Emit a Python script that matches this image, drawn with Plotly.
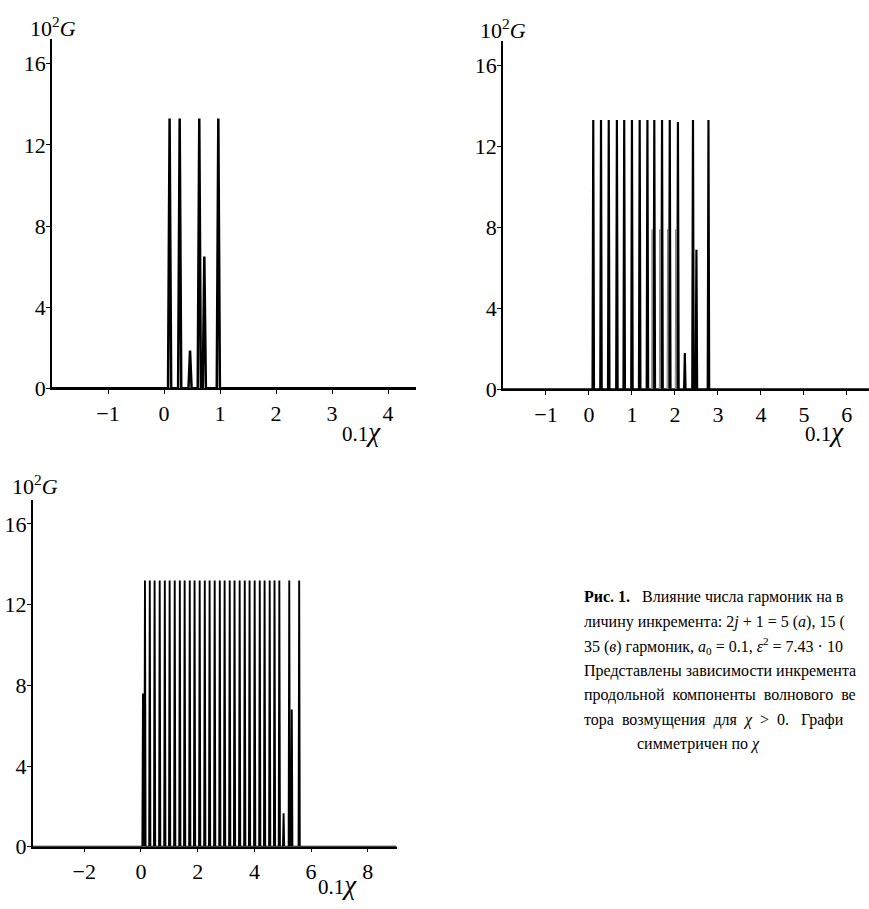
import plotly.graph_objects as go

# ---------------- data ----------------
# panel (a): 2j+1 = 5 harmonics
A_PEAK_X = [0.10, 0.28, 0.465, 0.63, 0.72, 0.97]
A_PEAK_G = [13.3, 13.3, 1.86, 13.3, 6.5, 13.3]
# panel (b): 2j+1 = 15 harmonics
B_PEAK_X = [0.10, 0.28, 0.46, 0.65, 0.82, 1.00, 1.18, 1.36, 1.52, 1.70,
            1.88, 2.07, 2.23, 2.42, 2.50, 2.78]
B_PEAK_G = [13.3, 13.3, 13.3, 13.3, 13.3, 13.3, 13.3, 13.3, 13.3, 13.3,
            13.3, 13.2, 1.8, 13.3, 6.9, 13.3]
B_INNER_X = [1.47, 1.65, 1.83, 2.02]
B_INNER_G = [7.9, 7.9, 7.9, 7.9]
# panel (c): 2j+1 = 35 harmonics
C_PEAK_X = [0.07, 0.14, 0.31, 0.48, 0.66, 0.84, 1.01, 1.19, 1.37, 1.54, 1.72,
            1.89, 2.07, 2.25, 2.42, 2.60, 2.78, 2.95, 3.13, 3.30, 3.48,
            3.66, 3.83, 4.01, 4.19, 4.36, 4.54, 4.71, 4.88, 5.03, 5.23,
            5.32, 5.58]
C_PEAK_G = [7.6, 13.2, 13.2, 13.2, 13.2, 13.2, 13.2, 13.2, 13.2, 13.2, 13.2,
            13.2, 13.2, 13.2, 13.2, 13.2, 13.2, 13.2, 13.2, 13.2, 13.2,
            13.2, 13.2, 13.2, 13.2, 13.2, 13.2, 13.2, 13.2, 1.66, 13.2,
            6.8, 13.2]

A_XTICKS = [-1, 0, 1, 2, 3, 4]
B_XTICKS = [-1, 0, 1, 2, 3, 4, 5, 6]
C_XTICKS = [-2, 0, 2, 4, 6, 8]
Y_TICKS = [0, 4, 8, 12, 16]

# caption, as far as it is visible in the (cropped) reference
CAPTION = [
    "<b>Рис. 1.</b>   Влияние числа гармоник на в",
    "личину инкремента: 2<i>j</i> + 1 = 5 (<i>а</i>), 15 (",
    "35 (<i>в</i>) гармоник, <i>a</i><sub>0</sub> = 0.1, <i>ε</i><sup>2</sup> = 7.43 · 10",
    "Представлены зависимости инкремента",
    "продольной  компоненты  волнового  ве",
    "тора  возмущения  для  <i>χ</i>  &gt;  0.   Графи",
]
CAPTION_LAST = "симметричен по <i>χ</i>"

# ---------------- helpers ----------------
W, H = 869, 909
FONT = "Liberation Serif"


def fx(p):
    return p / W


def fy(p):
    return 1 - p / H


def tick_text(vals):
    return [("−" + str(-v)) if v < 0 else str(v) for v in vals]


def spike_curve(xs, gs, half, lo, hi):
    X, Y = [lo], [0]
    for c, g in sorted(zip(xs, gs)):
        X += [c - half, c, c + half]
        Y += [0, g, 0]
    X.append(hi)
    Y.append(0)
    return X, Y


fig = go.Figure()

panels = [
    # (xs, gs, half, lw, xrange, xdom(px), ydom(px bottom, top), xticks, suffix)
    (A_PEAK_X, A_PEAK_G, 0.028, 2.5, [-2.0, 4.5], (52, 416), (394, 40), A_XTICKS, ""),
    (B_PEAK_X, B_PEAK_G, 0.017, 2.2, [-2.0, 6.515], (503, 869), (395, 41.7), B_XTICKS, "2"),
    (C_PEAK_X, C_PEAK_G, 0.022, 1.9, [-3.82, 9.02], (32.7, 396.7), (859, 507), C_XTICKS, "3"),
]

layout_axes = {}
for xs, gs, half, lw, xr, xd, yd, xt, sfx in panels:
    X, Y = spike_curve(xs, gs, half, xr[0], xr[1])
    fig.add_trace(go.Scatter(x=X, y=Y, mode="lines",
                             line=dict(color="black", width=lw),
                             xaxis="x" + sfx, yaxis="y" + sfx,
                             hoverinfo="skip", showlegend=False))
    common = dict(showline=True, linecolor="black", linewidth=1.5,
                  ticks="outside", ticklen=4, tickwidth=1.2, tickcolor="black",
                  showgrid=False, zeroline=False,
                  tickfont=dict(family=FONT, size=22, color="black"))
    layout_axes["xaxis" + sfx] = dict(common, range=xr,
                                      domain=[fx(xd[0]), fx(xd[1])],
                                      anchor="y" + sfx,
                                      tickvals=xt, ticktext=tick_text(xt))
    layout_axes["yaxis" + sfx] = dict(common, range=[0, 17.2],
                                      domain=[fy(yd[0]), fy(yd[1])],
                                      anchor="x" + sfx, ticklabelstandoff=-4,
                                      tickvals=Y_TICKS, ticktext=tick_text(Y_TICKS))

# faint inner branches of panel (b)
Xi, Yi = spike_curve(B_INNER_X, B_INNER_G, 0.012, 1.3, 2.2)
fig.add_trace(go.Scatter(x=Xi, y=Yi, mode="lines",
                         line=dict(color="#808080", width=1),
                         xaxis="x2", yaxis="y2", hoverinfo="skip",
                         showlegend=False))

annotations = []
# axis titles
for (x0, ym) in [(28, 27), (478, 29), (10, 492)]:
    annotations.append(dict(text="10<sup>2</sup><i>G</i>", x=fx(x0), y=fy(ym),
                            xref="paper", yref="paper", xanchor="left",
                            yanchor="middle", showarrow=False,
                            font=dict(family=FONT, size=22, color="black")))
for (x0, ym) in [(341, 438), (804, 438), (317, 898)]:
    annotations.append(dict(text="0.1<span style='font-size:27px'><i>χ</i></span>",
                            x=fx(x0), y=fy(ym),
                            xref="paper", yref="paper", xanchor="left",
                            yanchor="middle", showarrow=False, borderpad=0,
                            font=dict(family=FONT, size=21, color="black")))
# caption
for i, line in enumerate(CAPTION):
    annotations.append(dict(text=line, x=fx(583), y=fy(606 + 24.8 * i),
                            xref="paper", yref="paper", xanchor="left",
                            yanchor="middle", showarrow=False, borderpad=0,
                            font=dict(family=FONT, size=16, color="black")))
annotations.append(dict(text=CAPTION_LAST, x=fx(698), y=fy(606 + 24.8 * 6),
                        xref="paper", yref="paper", xanchor="center",
                        yanchor="middle", showarrow=False, borderpad=0,
                        font=dict(family=FONT, size=16, color="black")))

fig.update_layout(width=W, height=H, margin=dict(l=0, r=0, t=0, b=0),
                  paper_bgcolor="white", plot_bgcolor="white",
                  annotations=annotations, **layout_axes)

fig.write_html("out.html")
